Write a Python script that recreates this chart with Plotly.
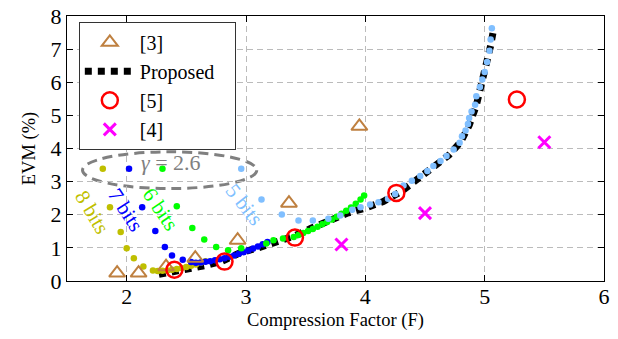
import plotly.graph_objects as go

# ---- data ----
ref3_x = [1.92, 2.10, 2.33, 2.575, 2.93, 3.36, 3.95]
ref3_y = [0.24, 0.24, 0.43, 0.69, 1.23, 2.35, 4.67]

ref5_x = [2.40, 2.82, 3.41, 4.26, 5.27]
ref5_y = [0.34, 0.585, 1.31, 2.66, 5.48]

ref4_x = [3.80, 4.50, 5.50]
ref4_y = [1.10, 2.05, 4.19]

prop_x = [2.27, 2.36, 2.50, 2.65, 2.80, 2.95, 3.10, 3.25, 3.40, 3.55, 3.70, 3.85, 4.00,
          4.15, 4.30, 4.45, 4.60, 4.70, 4.80, 4.87, 4.93, 4.98, 5.02, 5.05, 5.07]
prop_y = [0.20, 0.25, 0.34, 0.46, 0.60, 0.85, 1.00, 1.15, 1.35, 1.60, 1.85, 2.05, 2.20,
          2.40, 2.70, 3.10, 3.50, 3.80, 4.20, 4.70, 5.30, 6.00, 6.60, 7.10, 7.50]

b5_x = [2.96, 3.13, 3.30, 3.44, 3.56, 3.69, 3.79, 3.89, 3.96, 4.04, 4.11, 4.19, 4.25, 4.32,
        4.39, 4.46, 4.52, 4.57, 4.63, 4.68, 4.74, 4.79, 4.81, 4.84, 4.86, 4.87, 4.89, 4.92,
        4.93, 4.96, 4.98, 5.00, 5.02, 5.04, 5.05, 5.06]
b5_y = [3.39, 2.46, 2.01, 1.83, 1.83, 1.88, 1.98, 2.15, 2.23, 2.31, 2.38, 2.48, 2.63, 2.88,
        3.03, 3.17, 3.32, 3.47, 3.62, 3.77, 3.97, 4.17, 4.37, 4.54, 4.74, 4.92, 5.12, 5.32,
        5.58, 5.86, 6.08, 6.31, 6.61, 6.95, 7.29, 7.63]

b7_x = [2.02, 2.13, 2.24, 2.32, 2.38, 2.47, 2.54, 2.58, 2.62, 2.66, 2.70, 2.74, 2.78, 2.82,
        2.86, 2.90, 2.94, 2.98, 3.02, 3.06, 3.10, 3.14, 3.18]
b7_y = [3.39, 2.23, 1.51, 1.03, 0.77, 0.64, 0.57, 0.55, 0.56, 0.58, 0.60, 0.63, 0.66, 0.69,
        0.73, 0.77, 0.82, 0.87, 0.92, 0.98, 1.04, 1.11, 1.18]

b6_x = [2.30, 2.42, 2.55, 2.65, 2.75, 2.85, 2.96, 3.17, 3.23, 3.31, 3.40, 3.44, 3.48, 3.52,
        3.56, 3.60, 3.64, 3.68, 3.72, 3.76, 3.80, 3.84, 3.88, 3.92, 3.96, 3.99]
b6_y = [3.39, 2.26, 1.60, 1.25, 1.03, 0.93, 0.99, 1.13, 1.23, 1.28, 1.33, 1.39, 1.45, 1.51,
        1.57, 1.64, 1.71, 1.78, 1.86, 1.94, 2.03, 2.12, 2.22, 2.33, 2.46, 2.58]

b8_x = [1.80, 1.86, 1.95, 2.00, 2.06, 2.14, 2.22, 2.26, 2.30, 2.34, 2.38, 2.42, 2.46, 2.50,
        2.54, 2.58, 2.62, 2.66]
b8_y = [3.39, 2.23, 1.48, 0.99, 0.69, 0.44, 0.32, 0.30, 0.31, 0.32, 0.34, 0.36, 0.39, 0.42,
        0.46, 0.50, 0.55, 0.60]

x_ticks = [2, 3, 4, 5, 6]
y_ticks = [0, 1, 2, 3, 4, 5, 6, 7, 8]

FONT = "Liberation Serif"
C_BROWN = "#BF8040"
C_LBLUE = "#80BFFF"
C_BLUE = "#0000FF"
C_GREEN = "#00FF00"
C_OLIVE = "#BFBF00"
PAD = "&nbsp;&nbsp;&nbsp;"

fig = go.Figure()

fig.add_trace(go.Scatter(x=prop_x, y=prop_y, mode="lines", name="Proposed" + PAD, legendrank=2,
                         line=dict(color="black", width=7, dash="7px,6px")))

for xs, ys, c in [(b8_x, b8_y, C_OLIVE), (b7_x, b7_y, C_BLUE),
                  (b6_x, b6_y, C_GREEN), (b5_x, b5_y, C_LBLUE)]:
    fig.add_trace(go.Scatter(x=xs, y=ys, mode="markers", showlegend=False,
                             marker=dict(color=c, size=6.5, line=dict(width=0))))

fig.add_trace(go.Scatter(x=ref3_x, y=ref3_y, mode="markers", name="[3]", legendrank=1,
                         marker=dict(symbol="triangle-up-open", size=14, color=C_BROWN,
                                     line=dict(width=2, color=C_BROWN))))
fig.add_trace(go.Scatter(x=ref5_x, y=ref5_y, mode="markers", name="[5]", legendrank=3,
                         marker=dict(symbol="circle-open", size=16, color="red",
                                     line=dict(width=2.5, color="red"))))
fig.add_trace(go.Scatter(x=ref4_x, y=ref4_y, mode="markers", name="[4]", legendrank=4,
                         marker=dict(symbol="x-thin-open", size=12, color="#FF00FF",
                                     line=dict(width=3, color="#FF00FF"))))

# gamma ellipse
fig.add_shape(type="circle", xref="x", yref="y", x0=1.63, x1=3.09, y0=2.79, y1=3.90,
              line=dict(color="#808080", width=3, dash="10px,6px"), layer="below")

ann = [
    ("8 bits", 1.71, 2.08, 59, C_OLIVE),
    ("7 bits", 1.99, 2.13, 57, C_BLUE),
    ("6 bits", 2.28, 2.16, 56, C_GREEN),
    ("5 bits", 2.98, 2.31, 52, C_LBLUE),
]
for t, x, y, a, c in ann:
    fig.add_annotation(x=x, y=y, text=t, textangle=a, showarrow=False,
                       font=dict(family=FONT, size=21, color=c))
fig.add_annotation(x=2.37, y=3.57, text="<i>γ</i> = 2.6", showarrow=False,
                   font=dict(family=FONT, size=22, color="#808080"))

axis_common = dict(showline=True, linecolor="black", linewidth=1, mirror="ticks",
                   ticks="inside", ticklen=6, tickcolor="black", automargin=False,
                   ticklabeloverflow="allow",
                   showgrid=True, gridcolor="#BBBBBB", gridwidth=1, griddash="6px,4px",
                   zeroline=False, tickfont=dict(family=FONT, size=22, color="black"))

fig.update_xaxes(range=[1.5, 6], tickvals=x_ticks, ticklabelstandoff=-4,
                 title=dict(text="Compression Factor (F)", font=dict(family=FONT, size=18.5, color="black"),
                            standoff=4),
                 **axis_common)
fig.update_yaxes(range=[0, 8], tickvals=y_ticks,
                 title=dict(text="EVM (%)", font=dict(family=FONT, size=18.5, color="black"),
                            standoff=10),
                 **axis_common)

fig.update_layout(
    width=610, height=331,
    margin=dict(l=59, r=14, t=8, b=57.7, autoexpand=False),
    plot_bgcolor="white", paper_bgcolor="white",
    legend=dict(x=0.022, y=0.978, xanchor="left", yanchor="top",
                bgcolor="white", bordercolor="#333333", borderwidth=1,
                font=dict(family=FONT, size=20, color="black"), itemwidth=50),
)

fig.write_html("out.html")
